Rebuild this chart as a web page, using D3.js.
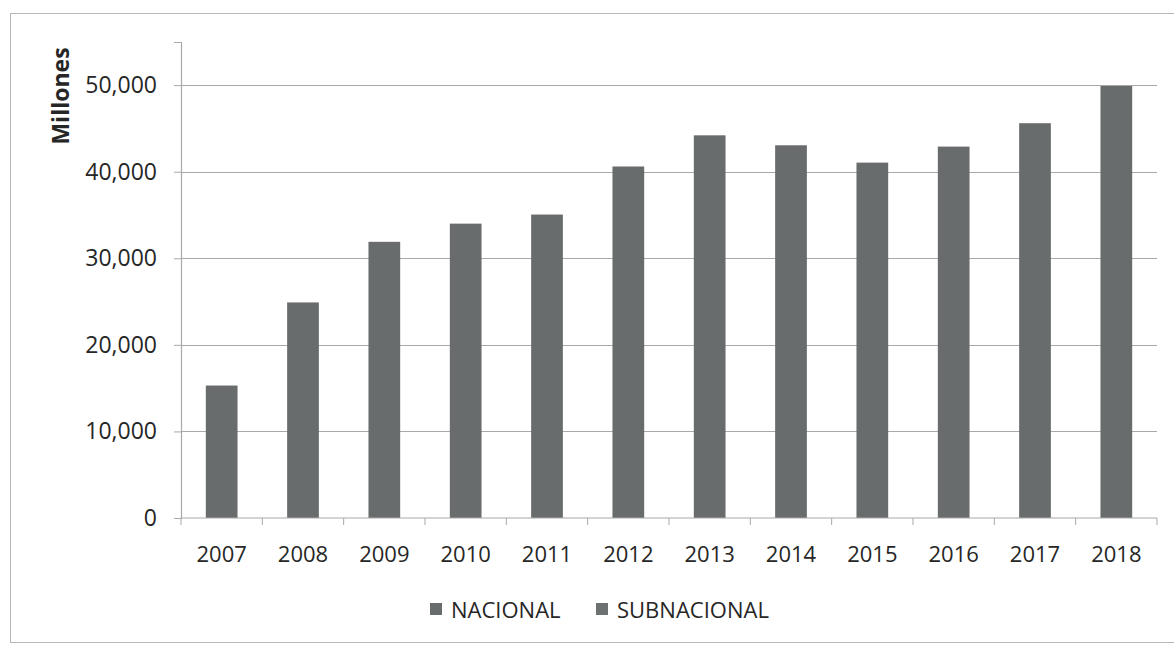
<!DOCTYPE html>
<html>
<head>
<meta charset="utf-8">
<script src="https://cdn.jsdelivr.net/npm/d3@7"></script>
<style>
  body { margin: 0; background: #fff; }
  text { font-family: "Open Sans", "Noto Sans", sans-serif; fill: #262626; }
</style>
</head>
<body>
<div id="chart"></div>
<script>
// data (millones)
var years = ["2007","2008","2009","2010","2011","2012","2013","2014","2015","2016","2017","2018"];
var nacional = [15300, 24900, 31900, 34000, 35050, 40600, 44200, 43050, 41050, 42900, 45600, 49900];
var subnacional = [0, 0, 0, 0, 0, 0, 0, 0, 0, 0, 0, 0]; // no visible segment
var yTicks = [0, 10000, 20000, 30000, 40000, 50000];
var seriesNames = ["NACIONAL", "SUBNACIONAL"];
var seriesColors = ["#696c6c", "#6e7171"];

var width = 1174, height = 645;
var margin = {top: 42, left: 181, right: 17, bottom: 127};

var svg = d3.select("#chart").append("svg")
  .attr("width", width)
  .attr("height", height);

// outer frame
svg.append("rect")
  .attr("x", 10.5).attr("y", 13.5)
  .attr("width", 1180).attr("height", 629)
  .attr("fill", "none")
  .attr("stroke", "#b8b8b8");

var x = d3.scaleBand()
  .domain(years)
  .range([margin.left, width - margin.right])
  .paddingInner(0.61)
  .paddingOuter(0.305);

var y = d3.scaleLinear()
  .domain([0, 54980])
  .range([height - margin.bottom, margin.top]);

// gridlines
svg.append("g")
  .selectAll("line")
  .data(yTicks.slice(1))
  .enter().append("line")
  .attr("x1", margin.left)
  .attr("x2", width - margin.right)
  .attr("y1", d => Math.round(y(d)) + 0.5)
  .attr("y2", d => Math.round(y(d)) + 0.5)
  .attr("stroke", "#a9a9a9")
  .attr("stroke-width", 1.2);

// stacked bars
var rows = years.map((yr, i) => ({year: yr, NACIONAL: nacional[i], SUBNACIONAL: subnacional[i]}));
var stack = d3.stack().keys(seriesNames)(rows);

svg.append("g")
  .selectAll("g")
  .data(stack)
  .enter().append("g")
  .attr("fill", (d, i) => seriesColors[i])
  .selectAll("rect")
  .data(d => d)
  .enter().append("rect")
  .attr("x", d => x(d.data.year))
  .attr("width", x.bandwidth())
  .attr("y", d => y(d[1]))
  .attr("height", d => y(d[0]) - y(d[1]));

// y axis
var yAxis = d3.axisLeft(y)
  .tickValues(yTicks)
  .tickSize(7)
  .tickPadding(17)
  .tickFormat(d3.format(","));

var gy = svg.append("g")
  .attr("transform", "translate(" + margin.left + ",0)")
  .call(yAxis);
gy.select(".domain").attr("stroke", "#a9a9a9").attr("stroke-width", 1.2);
gy.selectAll(".tick line").attr("stroke", "#a9a9a9");
gy.selectAll("text").style("font-size", "23px").attr("fill", "#262626");

// x axis: ticks between categories
var baseY = y(0);
var gx = svg.append("g");
gx.append("line")
  .attr("x1", margin.left).attr("x2", width - margin.right)
  .attr("y1", baseY).attr("y2", baseY)
  .attr("stroke", "#a9a9a9").attr("stroke-width", 1.2);

var step = x.step();
var bounds = d3.range(years.length + 1).map(i => margin.left + i * step);
gx.selectAll(".sep")
  .data(bounds)
  .enter().append("line")
  .attr("class", "sep")
  .attr("x1", d => d).attr("x2", d => d)
  .attr("y1", baseY).attr("y2", baseY + 7)
  .attr("stroke", "#a9a9a9");

gx.selectAll(".lbl")
  .data(years)
  .enter().append("text")
  .attr("class", "lbl")
  .attr("x", d => x(d) + x.bandwidth() / 2)
  .attr("y", baseY + 44)
  .attr("text-anchor", "middle")
  .style("font-size", "22px")
  .text(d => d);

// y title
svg.append("text")
  .attr("transform", "translate(69,96) rotate(-90)")
  .attr("text-anchor", "middle")
  .style("font-size", "23px")
  .style("font-weight", "bold")
  .attr("fill", "#111")
  .text("Millones");

// legend
var legendX = [430, 596];
var leg = svg.append("g")
  .selectAll("g")
  .data(seriesNames)
  .enter().append("g")
  .attr("transform", (d, i) => "translate(" + legendX[i] + ",603)");

leg.append("rect")
  .attr("width", 12).attr("height", 12)
  .attr("fill", (d, i) => seriesColors[i]);

leg.append("text")
  .attr("x", 21)
  .attr("y", 15)
  .style("font-size", "22px")
  .text(d => d);
</script>
</body>
</html>
